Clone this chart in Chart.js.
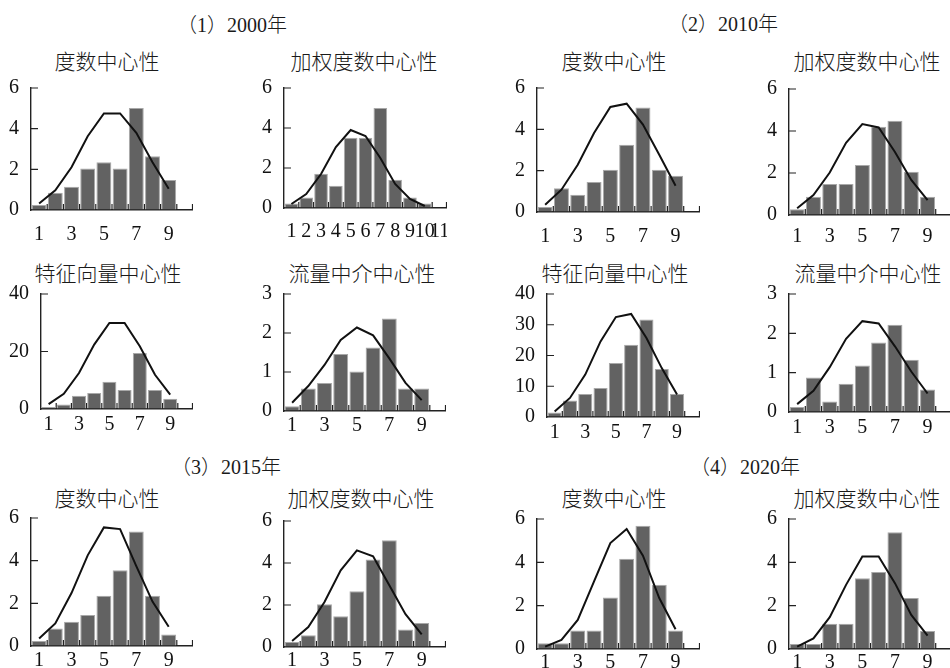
<!DOCTYPE html>
<html>
<head>
<meta charset="utf-8">
<script src="https://cdn.jsdelivr.net/npm/chart.js@4.4.0/dist/chart.umd.min.js"></script>
<style>
  html, body { margin: 0; padding: 0; background: #fff; overflow: hidden; }
  #page { position: relative; width: 950px; height: 668px; overflow: hidden; }
  .box { position: absolute; }
  .txt { position: absolute; transform: translate(-50%, -50%); white-space: nowrap; color: #1a1a1a; }
  .year { font: 300 20px "Liberation Serif", "Noto Sans CJK SC", serif; }
  .sub { font: 300 21px "Noto Sans CJK SC", sans-serif; }
</style>
</head>
<body>
<div id="page"></div>
<script>
// Categories (class number) and tick labels
const slots10 = ["1", "2", "3", "4", "5", "6", "7", "8", "9", "10"];
const slots11 = ["1", "2", "3", "4", "5", "6", "7", "8", "9", "10", "11"];
const oddTicks = ["1", "3", "5", "7", "9"];
const allTicks = slots11;

// 2000
const deg2000 = [0.24, 0.85, 1.14, 2.04, 2.35, 2.04, 5.02, 2.64, 1.47];
const degFit2000 = [0.32, 0.97, 2.1, 3.63, 4.75, 4.75, 3.8, 2.35, 1.05];
const wdeg2000 = [0.22, 0.52, 1.71, 1.11, 3.51, 3.51, 5.0, 1.41, 0.52, 0.22];
const wdegFit2000 = [0.2, 0.7, 1.7, 3.05, 3.9, 3.6, 2.5, 1.2, 0.45, 0.1];
const eig2000 = [0.7, 1.6, 4.6, 5.6, 9.5, 6.6, 19.5, 6.6, 3.6];
const eigFit2000 = [1.7, 5.3, 12.5, 22.4, 29.9, 29.9, 21.8, 11.9, 5.0];
const flow2000 = [0.12, 0.58, 0.72, 1.46, 1.01, 1.63, 2.37, 0.58, 0.58];
const flowFit2000 = [0.21, 0.64, 1.18, 1.82, 2.14, 1.94, 1.35, 0.72, 0.28];

// 2010
const deg2010 = [0.24, 1.15, 0.84, 1.45, 2.05, 3.26, 5.06, 2.05, 1.76];
const degFit2010 = [0.35, 1.08, 2.29, 3.82, 5.08, 5.24, 4.23, 2.77, 1.27];
const wdeg2010 = [0.27, 0.87, 1.48, 1.48, 2.38, 4.2, 4.49, 2.06, 0.87];
const wdegFit2010 = [0.32, 0.95, 2.02, 3.44, 4.33, 4.17, 3.0, 1.67, 0.71];
const eig2010 = [1.5, 5.4, 7.5, 9.4, 17.6, 23.5, 31.7, 15.6, 7.5];
const eigFit2010 = [1.8, 6.2, 13.8, 24.6, 32.5, 33.5, 25.7, 15.9, 7.3];
const flow2010 = [0.13, 0.88, 0.27, 0.72, 1.18, 1.77, 2.22, 1.33, 0.57];
const flowFit2010 = [0.2, 0.54, 1.14, 1.86, 2.31, 2.25, 1.67, 1.03, 0.47];

// 2015
const deg2015 = [0.24, 0.82, 1.14, 1.45, 2.35, 3.55, 5.37, 2.35, 0.54];
const degFit2015 = [0.35, 1.06, 2.48, 4.25, 5.56, 5.48, 3.74, 2.08, 0.9];
const wdeg2015 = [0.24, 0.56, 2.03, 1.46, 2.65, 4.17, 5.08, 0.83, 1.14];
const wdegFit2015 = [0.29, 0.95, 2.14, 3.65, 4.6, 4.32, 2.94, 1.56, 0.6];

// 2020
const deg2020 = [0.26, 0.26, 0.85, 0.85, 2.38, 4.17, 5.69, 2.96, 0.85];
const degFit2020 = [0.11, 0.42, 1.34, 3.12, 4.89, 5.54, 4.31, 2.35, 0.91];
const wdeg2020 = [0.23, 0.23, 1.16, 1.16, 3.27, 3.55, 5.39, 2.35, 0.83];
const wdegFit2020 = [0.11, 0.49, 1.47, 2.96, 4.27, 4.27, 3.04, 1.57, 0.62];

const yearTitles = ["（1）2000年", "（2）2010年", "（3）2015年", "（4）2020年"];
const yearPos = [[232, 23], [723, 22], [226, 465], [745, 465]];

const panels = [
  { title: "度数中心性", bars: deg2000, curve: degFit2000, labels: slots10, shown: oddTicks, max: 6, step: 2,
    tx: 107, ty: 60, left: 31, top: 88, zero: 210, right: 193, labPad: 13 },
  { title: "加权度数中心性", bars: wdeg2000, curve: wdegFit2000, labels: slots11, shown: allTicks, max: 6, step: 2,
    tx: 364, ty: 60, left: 284, top: 88, zero: 208, right: 447, labPad: 12 },
  { title: "度数中心性", bars: deg2010, curve: degFit2010, labels: slots10, shown: oddTicks, max: 6, step: 2,
    tx: 614, ty: 60, left: 537, top: 88, zero: 212, right: 700, labPad: 13 },
  { title: "加权度数中心性", bars: wdeg2010, curve: wdegFit2010, labels: slots10, shown: oddTicks, max: 6, step: 2,
    tx: 867, ty: 60, left: 789, top: 89, zero: 215, right: 952, labPad: 10 },
  { title: "特征向量中心性", bars: eig2000, curve: eigFit2000, labels: slots10, shown: oddTicks, max: 40, step: 20,
    tx: 108, ty: 272, left: 41, top: 294, zero: 409, right: 193, labPad: 4 },
  { title: "流量中介中心性", bars: flow2000, curve: flowFit2000, labels: slots10, shown: oddTicks, max: 3, step: 1,
    tx: 362, ty: 272, left: 284, top: 294, zero: 411, right: 446, labPad: 3 },
  { title: "特征向量中心性", bars: eig2010, curve: eigFit2010, labels: slots10, shown: oddTicks, max: 40, step: 10,
    tx: 615, ty: 272, left: 547, top: 294, zero: 417, right: 700, labPad: 4 },
  { title: "流量中介中心性", bars: flow2010, curve: flowFit2010, labels: slots10, shown: oddTicks, max: 3, step: 1,
    tx: 868, ty: 272, left: 789, top: 294, zero: 412, right: 952, labPad: 4 },
  { title: "度数中心性", bars: deg2015, curve: degFit2015, labels: slots10, shown: oddTicks, max: 6, step: 2,
    tx: 107, ty: 497, left: 31, top: 518, zero: 646, right: 193, labPad: 3 },
  { title: "加权度数中心性", bars: wdeg2015, curve: wdegFit2015, labels: slots10, shown: oddTicks, max: 6, step: 2,
    tx: 361, ty: 497, left: 284, top: 521, zero: 647, right: 446, labPad: 2 },
  { title: "度数中心性", bars: deg2020, curve: degFit2020, labels: slots10, shown: oddTicks, max: 6, step: 2,
    tx: 614, ty: 497, left: 537, top: 519, zero: 649, right: 700, labPad: 2 },
  { title: "加权度数中心性", bars: wdeg2020, curve: wdegFit2020, labels: slots10, shown: oddTicks, max: 6, step: 2,
    tx: 867, ty: 497, left: 789, top: 519, zero: 649, right: 952, labPad: 2 },
];

const page = document.getElementById("page");
const axisColor = "#222";
const tickFont = { family: "Liberation Serif", size: 20 };

function addText(text, x, y, cls) {
  const d = document.createElement("div");
  d.className = "txt " + cls;
  d.style.left = x + "px";
  d.style.top = y + "px";
  d.textContent = text;
  page.appendChild(d);
}

// short tick marks pointing into the plot
const innerTicks = {
  id: "innerTicks",
  beforeDatasetsDraw(chart) {
    const { ctx, chartArea: a, scales: { x, y } } = chart;
    const n = x.getLabels().length;
    ctx.save();
    ctx.strokeStyle = axisColor;
    ctx.lineWidth = 1.2;
    ctx.beginPath();
    for (let i = 0; i < n; i++) {
      const px = i < n - 1 ? (x.getPixelForValue(i) + x.getPixelForValue(i + 1)) / 2 : a.right - 0.5;
      ctx.moveTo(px, a.bottom);
      ctx.lineTo(px, a.bottom - 6);
    }
    y.ticks.forEach((t) => {
      if (t.value === 0) return;
      const py = y.getPixelForValue(t.value);
      ctx.moveTo(a.left, py);
      ctx.lineTo(a.left + 7, py);
    });
    ctx.stroke();
    ctx.restore();
  },
};

yearTitles.forEach((t, i) => addText(t, yearPos[i][0], yearPos[i][1], "year"));

panels.forEach((p) => {
  const yw = 36, padTop = 14, xh = 40;
  const w = yw + (p.right - p.left);
  const h = padTop + (p.zero - p.top) + xh;

  addText(p.title, p.tx, p.ty, "sub");

  const box = document.createElement("div");
  box.className = "box";
  box.style.left = p.left - yw + "px";
  box.style.top = p.top - padTop + "px";
  const cv = document.createElement("canvas");
  cv.width = w;
  cv.height = h;
  cv.style.width = w + "px";
  cv.style.height = h + "px";
  box.appendChild(cv);
  page.appendChild(box);

  new Chart(cv, {
    type: "bar",
    data: {
      labels: p.labels,
      datasets: [
        {
          type: "line",
          data: p.curve,
          borderColor: "#111",
          borderWidth: 2,
          pointRadius: 0,
          tension: 0,
          order: 0,
        },
        {
          type: "bar",
          data: p.bars,
          backgroundColor: "#626262",
          borderColor: "#a8a8a8",
          borderWidth: 1,
          barPercentage: 0.92,
          categoryPercentage: 1,
          order: 1,
        },
      ],
    },
    options: {
      responsive: false,
      animation: false,
      devicePixelRatio: 1,
      layout: { padding: { top: padTop, left: 0, right: 0, bottom: 0 } },
      plugins: { legend: { display: false }, tooltip: { enabled: false } },
      scales: {
        x: {
          offset: true,
          grid: { display: true, drawOnChartArea: false, drawTicks: false },
          border: { display: true, color: axisColor, width: 1.4 },
          ticks: {
            autoSkip: false,
            maxRotation: 0,
            padding: p.labPad,
            font: tickFont,
            color: "#111",
            callback: function (v) {
              const l = this.getLabelForValue(v);
              return p.shown.includes(l) ? l : "";
            },
          },
          afterFit: (s) => {
            s.height = xh;
            s.paddingLeft = 0;
            s.paddingRight = 0;
          },
        },
        y: {
          min: 0,
          max: p.max,
          grid: { display: true, drawOnChartArea: false, drawTicks: false },
          border: { display: true, color: axisColor, width: 1.4 },
          ticks: { stepSize: p.step, padding: 12, font: tickFont, color: "#111" },
          afterFit: (s) => {
            s.width = yw;
            s.paddingTop = 0;
            s.paddingBottom = 0;
          },
        },
      },
    },
    plugins: [innerTicks],
  });
});
</script>
</body>
</html>
